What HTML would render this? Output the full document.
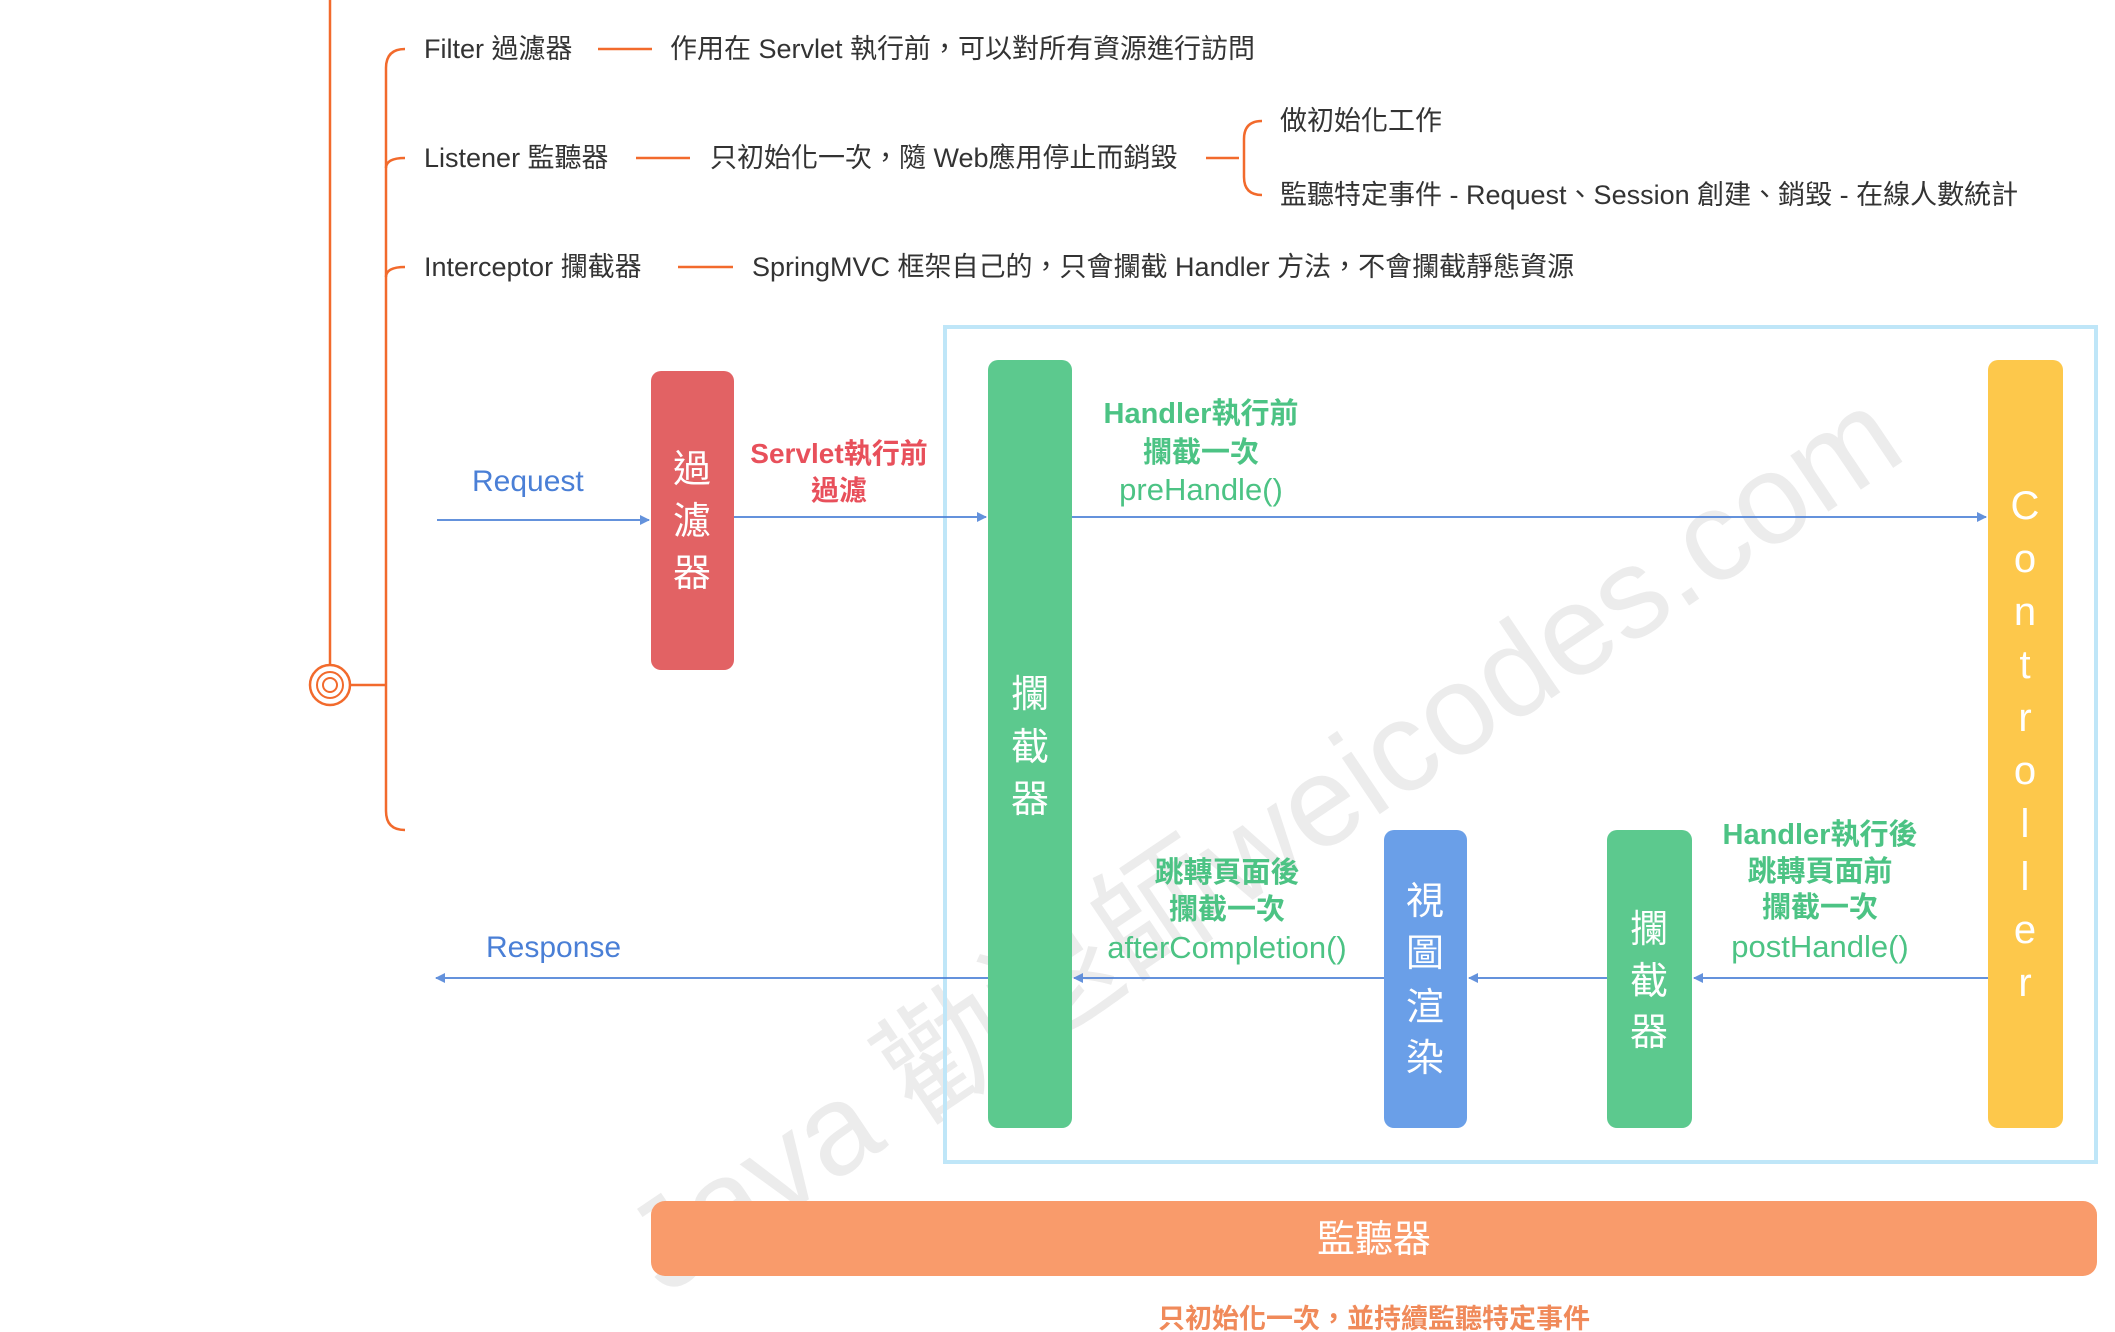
<!DOCTYPE html>
<html><head><meta charset="utf-8"><style>
html,body{margin:0;padding:0;background:#fff;}
svg{display:block;}
text{font-family:"Liberation Sans","Noto Sans CJK TC",sans-serif;}
</style></head><body>
<svg width="2115" height="1332" viewBox="0 0 2115 1332" xmlns="http://www.w3.org/2000/svg">
<defs>
<marker id="ab" markerWidth="10" markerHeight="10" refX="9" refY="5" orient="auto" markerUnits="userSpaceOnUse"><path d="M0,0 L10,5 L0,10 z" fill="#4a7fd6"/></marker>
</defs>
<line x1="330" y1="0" x2="330" y2="665" stroke="#f26a2c" stroke-width="2.5"/>
<circle cx="330" cy="685" r="20" fill="none" stroke="#f26a2c" stroke-width="2.5"/>
<circle cx="330" cy="685" r="13" fill="none" stroke="#f26a2c" stroke-width="2"/>
<circle cx="330" cy="685" r="7" fill="none" stroke="#f26a2c" stroke-width="2"/>
<line x1="350" y1="685" x2="386" y2="685" stroke="#f26a2c" stroke-width="2.5"/>
<path d="M405,49 Q386,49 386,68 L386,811 Q386,830 405,830" fill="none" stroke="#f26a2c" stroke-width="2.5"/>
<path d="M386,168 Q386,158 405,158 M386,277 Q386,267 405,267" fill="none" stroke="#f26a2c" stroke-width="2.5"/>
<g font-size="27" fill="#333">
<text x="424" y="58">Filter 過濾器</text>
<text x="670" y="58">作用在 Servlet 執行前，可以對所有資源進行訪問</text>
<text x="424" y="167">Listener 監聽器</text>
<text x="710" y="167">只初始化一次，隨 Web應用停止而銷毀</text>
<text x="1280" y="130">做初始化工作</text>
<text x="1280" y="204">監聽特定事件 - Request、Session 創建、銷毀 - 在線人數統計</text>
<text x="424" y="276">Interceptor 攔截器</text>
<text x="752" y="276">SpringMVC 框架自己的，只會攔截 Handler 方法，不會攔截靜態資源</text>
</g>
<g stroke="#f26a2c" stroke-width="2.5" fill="none">
<line x1="598" y1="49" x2="652" y2="49"/>
<line x1="636" y1="158" x2="690" y2="158"/>
<line x1="678" y1="267" x2="733" y2="267"/>
<line x1="1206" y1="158" x2="1239" y2="158"/>
<path d="M1262,121 Q1244,121 1244,139 L1244,177 Q1244,195 1262,195"/>
</g>
<text x="1276" y="880" font-size="128" fill="#ececec" text-anchor="middle" transform="rotate(-34 1276 860)">Java 勸退師weicodes.com</text>
<rect x="945" y="327" width="1151" height="835" fill="none" stroke="#bfe6f8" stroke-width="4"/>
<g stroke="#4a7fd6" stroke-width="2" fill="none" opacity="0.85">
<line x1="437" y1="520" x2="649" y2="520" marker-end="url(#ab)"/>
<line x1="734" y1="517" x2="986" y2="517" marker-end="url(#ab)"/>
<line x1="1072" y1="517" x2="1986" y2="517" marker-end="url(#ab)"/>
<line x1="1988" y1="978" x2="1694" y2="978" marker-end="url(#ab)"/>
<line x1="1607" y1="978" x2="1469" y2="978" marker-end="url(#ab)"/>
<line x1="1384" y1="978" x2="1074" y2="978" marker-end="url(#ab)"/>
<line x1="988" y1="978" x2="436" y2="978" marker-end="url(#ab)"/>
</g>
<rect x="651" y="371" width="83" height="299" rx="10" fill="#e26264"/>
<rect x="988" y="360" width="84" height="768" rx="10" fill="#5cc98e"/>
<rect x="1988" y="360" width="75" height="768" rx="10" fill="#fdc84b"/>
<rect x="1384" y="830" width="83" height="298" rx="10" fill="#6a9fe8"/>
<rect x="1607" y="830" width="85" height="298" rx="10" fill="#5cc98e"/>
<rect x="651" y="1201" width="1446" height="75" rx="14" fill="#f99b6b"/>
<g fill="#fff" font-size="38" text-anchor="middle">
<text x="692" y="482">過</text><text x="692" y="534">濾</text><text x="692" y="586">器</text>
<text x="1030" y="707">攔</text><text x="1030" y="760">截</text><text x="1030" y="812">器</text>
<text x="1425" y="914">視</text><text x="1425" y="966">圖</text><text x="1425" y="1020">渲</text><text x="1425" y="1071">染</text>
<text x="1649" y="942">攔</text><text x="1649" y="994">截</text><text x="1649" y="1045">器</text>
<text x="1374" y="1252">監聽器</text>
</g>
<g fill="#fff" font-size="40" text-anchor="middle">
<text x="2025" y="519">C</text><text x="2025" y="572">o</text><text x="2025" y="625">n</text><text x="2025" y="678">t</text><text x="2025" y="731">r</text><text x="2025" y="784">o</text><text x="2025" y="837">l</text><text x="2025" y="890">l</text><text x="2025" y="943">e</text><text x="2025" y="996">r</text>
</g>
<g font-size="30" fill="#4a7fd6">
<text x="472" y="491">Request</text>
<text x="486" y="957">Response</text>
</g>
<g font-size="28" fill="#e8505b" font-weight="bold" text-anchor="middle">
<text x="839" y="463">Servlet執行前</text>
<text x="839" y="500">過濾</text>
</g>
<g font-size="29" fill="#4cc384" text-anchor="middle" font-weight="bold">
<text x="1201" y="423">Handler執行前</text>
<text x="1201" y="462">攔截一次</text>
<text x="1201" y="500" font-weight="normal" font-size="31">preHandle()</text>
<text x="1227" y="882">跳轉頁面後</text>
<text x="1227" y="919">攔截一次</text>
<text x="1227" y="958" font-weight="normal" font-size="31">afterCompletion()</text>
<text x="1820" y="844">Handler執行後</text>
<text x="1820" y="881">跳轉頁面前</text>
<text x="1820" y="917">攔截一次</text>
<text x="1820" y="957" font-weight="normal" font-size="31">postHandle()</text>
</g>
<text x="1374" y="1328" font-size="27" fill="#f08a5a" font-weight="bold" text-anchor="middle">只初始化一次，並持續監聽特定事件</text>
</svg>
</body></html>
